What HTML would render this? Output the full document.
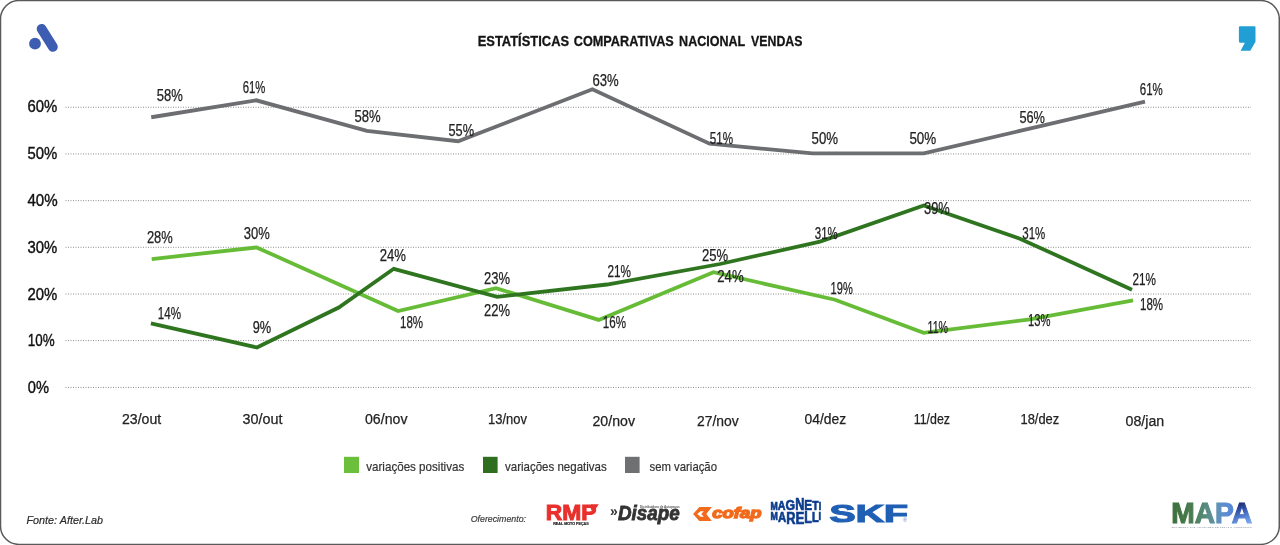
<!DOCTYPE html>
<html lang="pt-BR">
<head>
<meta charset="utf-8">
<title>Estatísticas Comparativas Nacional Vendas</title>
<style>
html,body{margin:0;padding:0;background:#fff;}
body{width:1280px;height:545px;overflow:hidden;}
svg{display:block;will-change:transform;}
text{font-family:"Liberation Sans",sans-serif;}
</style>
</head>
<body>
<svg width="1280" height="545" viewBox="0 0 1280 545">
<defs>
<linearGradient id="mapaG" gradientUnits="userSpaceOnUse" x1="1171" y1="0" x2="1236" y2="0">
<stop offset="0" stop-color="#3d6d3a"/>
<stop offset="0.32" stop-color="#4a7c50"/>
<stop offset="0.55" stop-color="#588c82"/>
<stop offset="0.72" stop-color="#6192b8"/>
<stop offset="0.85" stop-color="#5c8bd6"/>
<stop offset="1" stop-color="#5282d4"/>
</linearGradient>
<linearGradient id="mapaA" gradientUnits="userSpaceOnUse" x1="1236" y1="501" x2="1244" y2="524">
<stop offset="0" stop-color="#131f58"/>
<stop offset="0.35" stop-color="#2c48a0"/>
<stop offset="0.7" stop-color="#5580d2"/>
<stop offset="1" stop-color="#7aa6e6"/>
</linearGradient>
<pattern id="mapaP" patternUnits="userSpaceOnUse" x="0" y="0" width="1280" height="545">
<rect x="1160" y="495" width="75" height="40" fill="url(#mapaG)"/>
<rect x="1233.6" y="495" width="30" height="40" fill="url(#mapaA)"/>
</pattern>
</defs>
<rect x="0" y="0" width="1280" height="545" fill="#ffffff"/>

<rect x="0.5" y="0.5" width="1278.8" height="543.9" rx="18.5" ry="18.5" fill="none" stroke="#5a5a5a" stroke-width="1.5"/>
<line x1="65.5" y1="107.25" x2="1251" y2="107.25" stroke="#8c8c8c" stroke-width="1" stroke-dasharray="1 1.5"/>
<line x1="65.5" y1="153.95" x2="1251" y2="153.95" stroke="#8c8c8c" stroke-width="1" stroke-dasharray="1 1.5"/>
<line x1="65.5" y1="200.65" x2="1251" y2="200.65" stroke="#8c8c8c" stroke-width="1" stroke-dasharray="1 1.5"/>
<line x1="65.5" y1="247.3" x2="1251" y2="247.3" stroke="#8c8c8c" stroke-width="1" stroke-dasharray="1 1.5"/>
<line x1="65.5" y1="294.0" x2="1251" y2="294.0" stroke="#8c8c8c" stroke-width="1" stroke-dasharray="1 1.5"/>
<line x1="65.5" y1="340.6" x2="1251" y2="340.6" stroke="#8c8c8c" stroke-width="1" stroke-dasharray="1 1.5"/>
<line x1="65.5" y1="387.45" x2="1251" y2="387.45" stroke="#8c8c8c" stroke-width="1" stroke-dasharray="1 1.5"/>
<text x="27.40" y="112.10" font-size="17" fill="#111" font-weight="normal" font-style="normal" textLength="29.80" lengthAdjust="spacingAndGlyphs" stroke="#111" stroke-width="0.4">60%</text>
<text x="27.40" y="158.80" font-size="17" fill="#111" font-weight="normal" font-style="normal" textLength="29.80" lengthAdjust="spacingAndGlyphs" stroke="#111" stroke-width="0.4">50%</text>
<text x="27.40" y="205.60" font-size="17" fill="#111" font-weight="normal" font-style="normal" textLength="30.20" lengthAdjust="spacingAndGlyphs" stroke="#111" stroke-width="0.4">40%</text>
<text x="27.40" y="252.50" font-size="17" fill="#111" font-weight="normal" font-style="normal" textLength="29.80" lengthAdjust="spacingAndGlyphs" stroke="#111" stroke-width="0.4">30%</text>
<text x="27.40" y="299.50" font-size="17" fill="#111" font-weight="normal" font-style="normal" textLength="29.80" lengthAdjust="spacingAndGlyphs" stroke="#111" stroke-width="0.4">20%</text>
<text x="27.80" y="346.40" font-size="17" fill="#111" font-weight="normal" font-style="normal" textLength="26.80" lengthAdjust="spacingAndGlyphs" stroke="#111" stroke-width="0.4">10%</text>
<text x="27.80" y="393.20" font-size="17" fill="#111" font-weight="normal" font-style="normal" textLength="21.20" lengthAdjust="spacingAndGlyphs" stroke="#111" stroke-width="0.4">0%</text>
<polyline points="151.25,117.25 256.25,100.3 366.9,130.8 458.1,141.25 592.4,89.3 709.6,143.75 812.5,153.4 923.75,153.3 1035,127.4 1145,101.7" fill="none" stroke="#6d6e71" stroke-width="3.8" stroke-linejoin="miter" stroke-linecap="butt"/>
<polyline points="151.7,259.1 256.6,247.4 398.1,311 496,288.1 598.75,319.9 713.5,272.2 835,299.75 923.6,332.9 1030,319.3 1133.1,300.4" fill="none" stroke="#66bc36" stroke-width="3.8" stroke-linejoin="miter" stroke-linecap="butt"/>
<polyline points="150.9,323.3 256.9,347.5 338.75,307.5 393.75,268.8 497.2,296.8 607,284.5 720,264 820,241.6 923.75,205.5 1020.5,238.9 1132,289.7" fill="none" stroke="#2f7520" stroke-width="3.8" stroke-linejoin="miter" stroke-linecap="butt"/>
<text x="156.85" y="100.85" font-size="15.9" fill="#222" font-weight="normal" font-style="normal" textLength="26.05" lengthAdjust="spacingAndGlyphs" stroke="#222" stroke-width="0.25">58%</text>
<text x="242.75" y="92.95" font-size="15.9" fill="#222" font-weight="normal" font-style="normal" textLength="22.65" lengthAdjust="spacingAndGlyphs" stroke="#222" stroke-width="0.25">61%</text>
<text x="354.40" y="121.95" font-size="15.9" fill="#222" font-weight="normal" font-style="normal" textLength="26.20" lengthAdjust="spacingAndGlyphs" stroke="#222" stroke-width="0.25">58%</text>
<text x="448.50" y="135.95" font-size="15.9" fill="#222" font-weight="normal" font-style="normal" textLength="25.60" lengthAdjust="spacingAndGlyphs" stroke="#222" stroke-width="0.25">55%</text>
<text x="592.50" y="86.45" font-size="15.9" fill="#222" font-weight="normal" font-style="normal" textLength="26.25" lengthAdjust="spacingAndGlyphs" stroke="#222" stroke-width="0.25">63%</text>
<text x="709.75" y="144.05" font-size="15.9" fill="#222" font-weight="normal" font-style="normal" textLength="23.35" lengthAdjust="spacingAndGlyphs" stroke="#222" stroke-width="0.25">51%</text>
<text x="811.60" y="144.05" font-size="15.9" fill="#222" font-weight="normal" font-style="normal" textLength="26.50" lengthAdjust="spacingAndGlyphs" stroke="#222" stroke-width="0.25">50%</text>
<text x="909.40" y="144.05" font-size="15.9" fill="#222" font-weight="normal" font-style="normal" textLength="26.85" lengthAdjust="spacingAndGlyphs" stroke="#222" stroke-width="0.25">50%</text>
<text x="1019.40" y="123.25" font-size="15.9" fill="#222" font-weight="normal" font-style="normal" textLength="25.60" lengthAdjust="spacingAndGlyphs" stroke="#222" stroke-width="0.25">56%</text>
<text x="1139.75" y="94.65" font-size="15.9" fill="#222" font-weight="normal" font-style="normal" textLength="23.00" lengthAdjust="spacingAndGlyphs" stroke="#222" stroke-width="0.25">61%</text>
<text x="146.90" y="243.35" font-size="15.9" fill="#222" font-weight="normal" font-style="normal" textLength="25.85" lengthAdjust="spacingAndGlyphs" stroke="#222" stroke-width="0.25">28%</text>
<text x="243.75" y="239.00" font-size="15.9" fill="#222" font-weight="normal" font-style="normal" textLength="26.00" lengthAdjust="spacingAndGlyphs" stroke="#222" stroke-width="0.25">30%</text>
<text x="379.75" y="261.45" font-size="15.9" fill="#222" font-weight="normal" font-style="normal" textLength="26.25" lengthAdjust="spacingAndGlyphs" stroke="#222" stroke-width="0.25">24%</text>
<text x="157.75" y="318.75" font-size="15.9" fill="#222" font-weight="normal" font-style="normal" textLength="23.25" lengthAdjust="spacingAndGlyphs" stroke="#222" stroke-width="0.25">14%</text>
<text x="252.75" y="333.35" font-size="15.9" fill="#222" font-weight="normal" font-style="normal" textLength="18.50" lengthAdjust="spacingAndGlyphs" stroke="#222" stroke-width="0.25">9%</text>
<text x="400.00" y="327.95" font-size="15.9" fill="#222" font-weight="normal" font-style="normal" textLength="23.10" lengthAdjust="spacingAndGlyphs" stroke="#222" stroke-width="0.25">18%</text>
<text x="484.00" y="284.35" font-size="15.9" fill="#222" font-weight="normal" font-style="normal" textLength="26.00" lengthAdjust="spacingAndGlyphs" stroke="#222" stroke-width="0.25">23%</text>
<text x="484.00" y="315.55" font-size="15.9" fill="#222" font-weight="normal" font-style="normal" textLength="26.00" lengthAdjust="spacingAndGlyphs" stroke="#222" stroke-width="0.25">22%</text>
<text x="607.50" y="276.95" font-size="15.9" fill="#222" font-weight="normal" font-style="normal" textLength="23.50" lengthAdjust="spacingAndGlyphs" stroke="#222" stroke-width="0.25">21%</text>
<text x="602.75" y="327.85" font-size="15.9" fill="#222" font-weight="normal" font-style="normal" textLength="23.25" lengthAdjust="spacingAndGlyphs" stroke="#222" stroke-width="0.25">16%</text>
<text x="701.90" y="260.75" font-size="15.9" fill="#222" font-weight="normal" font-style="normal" textLength="26.20" lengthAdjust="spacingAndGlyphs" stroke="#222" stroke-width="0.25">25%</text>
<text x="717.25" y="281.65" font-size="15.9" fill="#222" font-weight="normal" font-style="normal" textLength="26.50" lengthAdjust="spacingAndGlyphs" stroke="#222" stroke-width="0.25">24%</text>
<text x="814.75" y="238.65" font-size="15.9" fill="#222" font-weight="normal" font-style="normal" textLength="23.00" lengthAdjust="spacingAndGlyphs" stroke="#222" stroke-width="0.25">31%</text>
<text x="830.60" y="294.05" font-size="15.9" fill="#222" font-weight="normal" font-style="normal" textLength="22.15" lengthAdjust="spacingAndGlyphs" stroke="#222" stroke-width="0.25">19%</text>
<text x="924.00" y="213.95" font-size="15.9" fill="#222" font-weight="normal" font-style="normal" textLength="25.75" lengthAdjust="spacingAndGlyphs" stroke="#222" stroke-width="0.25">39%</text>
<text x="927.50" y="332.95" font-size="15.9" fill="#222" font-weight="normal" font-style="normal" textLength="20.60" lengthAdjust="spacingAndGlyphs" stroke="#222" stroke-width="0.25">11%</text>
<text x="1022.25" y="238.95" font-size="15.9" fill="#222" font-weight="normal" font-style="normal" textLength="23.00" lengthAdjust="spacingAndGlyphs" stroke="#222" stroke-width="0.25">31%</text>
<text x="1132.50" y="284.75" font-size="15.9" fill="#222" font-weight="normal" font-style="normal" textLength="23.50" lengthAdjust="spacingAndGlyphs" stroke="#222" stroke-width="0.25">21%</text>
<text x="1140.00" y="309.75" font-size="15.9" fill="#222" font-weight="normal" font-style="normal" textLength="23.10" lengthAdjust="spacingAndGlyphs" stroke="#222" stroke-width="0.25">18%</text>
<text x="1028.10" y="325.85" font-size="15.9" fill="#222" font-weight="normal" font-style="normal" textLength="22.50" lengthAdjust="spacingAndGlyphs" stroke="#222" stroke-width="0.25">13%</text>
<text x="122.00" y="424.40" font-size="15.5" fill="#222" font-weight="normal" font-style="normal" textLength="39.25" lengthAdjust="spacingAndGlyphs" stroke="#222" stroke-width="0.25">23/out</text>
<text x="242.50" y="424.40" font-size="15.5" fill="#222" font-weight="normal" font-style="normal" textLength="40.00" lengthAdjust="spacingAndGlyphs" stroke="#222" stroke-width="0.25">30/out</text>
<text x="365.00" y="424.40" font-size="15.5" fill="#222" font-weight="normal" font-style="normal" textLength="42.50" lengthAdjust="spacingAndGlyphs" stroke="#222" stroke-width="0.25">06/nov</text>
<text x="488.00" y="424.40" font-size="15.5" fill="#222" font-weight="normal" font-style="normal" textLength="39.00" lengthAdjust="spacingAndGlyphs" stroke="#222" stroke-width="0.25">13/nov</text>
<text x="592.50" y="425.90" font-size="15.5" fill="#222" font-weight="normal" font-style="normal" textLength="42.50" lengthAdjust="spacingAndGlyphs" stroke="#222" stroke-width="0.25">20/nov</text>
<text x="697.00" y="425.90" font-size="15.5" fill="#222" font-weight="normal" font-style="normal" textLength="41.75" lengthAdjust="spacingAndGlyphs" stroke="#222" stroke-width="0.25">27/nov</text>
<text x="804.50" y="424.40" font-size="15.5" fill="#222" font-weight="normal" font-style="normal" textLength="41.75" lengthAdjust="spacingAndGlyphs" stroke="#222" stroke-width="0.25">04/dez</text>
<text x="913.75" y="424.40" font-size="15.5" fill="#222" font-weight="normal" font-style="normal" textLength="36.25" lengthAdjust="spacingAndGlyphs" stroke="#222" stroke-width="0.25">11/dez</text>
<text x="1020.50" y="424.40" font-size="15.5" fill="#222" font-weight="normal" font-style="normal" textLength="38.75" lengthAdjust="spacingAndGlyphs" stroke="#222" stroke-width="0.25">18/dez</text>
<text x="1125.50" y="425.90" font-size="15.5" fill="#222" font-weight="normal" font-style="normal" textLength="38.75" lengthAdjust="spacingAndGlyphs" stroke="#222" stroke-width="0.25">08/jan</text>
<text x="477.70" y="46.00" font-size="14.6" fill="#141414" font-weight="bold" font-style="normal" textLength="91.40" lengthAdjust="spacingAndGlyphs" stroke="#141414" stroke-width="0.3">ESTATÍSTICAS</text>
<text x="573.80" y="46.00" font-size="14.6" fill="#141414" font-weight="bold" font-style="normal" textLength="99.95" lengthAdjust="spacingAndGlyphs" stroke="#141414" stroke-width="0.3">COMPARATIVAS</text>
<text x="679.10" y="46.00" font-size="14.6" fill="#141414" font-weight="bold" font-style="normal" textLength="66.10" lengthAdjust="spacingAndGlyphs" stroke="#141414" stroke-width="0.3">NACIONAL</text>
<text x="751.10" y="46.00" font-size="14.6" fill="#141414" font-weight="bold" font-style="normal" textLength="51.30" lengthAdjust="spacingAndGlyphs" stroke="#141414" stroke-width="0.3">VENDAS</text>
<rect x="344" y="456.8" width="15" height="16.2" fill="#6bbf3b"/>
<rect x="483" y="456.8" width="14.6" height="16.2" fill="#2f6e1e"/>
<rect x="625" y="456.8" width="14.6" height="16.2" fill="#6f7072"/>
<text x="366.25" y="470.60" font-size="12.6" fill="#333" font-weight="normal" font-style="normal" textLength="98.00" lengthAdjust="spacingAndGlyphs" stroke="#333" stroke-width="0.2">variações positivas</text>
<text x="505.00" y="470.60" font-size="12.6" fill="#333" font-weight="normal" font-style="normal" textLength="101.75" lengthAdjust="spacingAndGlyphs" stroke="#333" stroke-width="0.2">variações negativas</text>
<text x="649.50" y="470.60" font-size="12.6" fill="#333" font-weight="normal" font-style="normal" textLength="67.50" lengthAdjust="spacingAndGlyphs" stroke="#333" stroke-width="0.2">sem variação</text>
<text x="26.50" y="523.80" font-size="11.6" fill="#2b2b2b" font-weight="normal" font-style="italic" textLength="76.60" lengthAdjust="spacingAndGlyphs" stroke="#2b2b2b" stroke-width="0.2">Fonte: After.Lab</text>
<text x="470.70" y="521.80" font-size="9.4" fill="#3a3a3a" font-weight="normal" font-style="italic" textLength="55.30" lengthAdjust="spacingAndGlyphs" stroke="#3a3a3a" stroke-width="0.2">Oferecimento:</text>
<circle cx="35" cy="43.7" r="5.9" fill="#3d5db3"/>
<line x1="41.6" y1="28.9" x2="52.9" y2="46.9" stroke="#3d5db3" stroke-width="9.8" stroke-linecap="round"/>
<path d="M1239.9 26.2 H1254.5 Q1255.5 26.2 1255.5 27.2 V41.8 L1250.3 50.7 H1240.6 L1244.8 42.7 H1240.4 Q1238.9 42.7 1238.9 41.2 V27.2 Q1238.9 26.2 1239.9 26.2 Z" fill="#219fd5"/>
<text x="545.80" y="519.90" font-size="21.8" fill="#e8302c" font-weight="bold" font-style="normal" textLength="50.70" lengthAdjust="spacingAndGlyphs" stroke="#e8302c" stroke-width="1">RMP</text>
<polygon points="591,504.2 598.8,504.2 595,509.8 591,509.8" fill="#e8302c"/>
<g transform="translate(553.20,524.75) scale(0.1450)"><text x="0" y="0" font-size="20" fill="#2a2a2a" font-weight="bold" font-style="normal" textLength="244.83" lengthAdjust="spacingAndGlyphs" stroke="#2a2a2a" stroke-width="1.2">REAL MOTO PEÇAS</text></g>
<text x="609.90" y="515.60" font-size="14.5" fill="#333" font-weight="bold" font-style="normal" textLength="7.70" lengthAdjust="spacingAndGlyphs">»</text>
<text x="618.00" y="520.30" font-size="20" fill="#333" font-weight="bold" font-style="italic" textLength="61.70" lengthAdjust="spacingAndGlyphs" stroke="#333" stroke-width="0.8">Disape</text>
<g transform="translate(640.00,508.00) scale(0.1350)"><text x="0" y="0" font-size="20" fill="#555" font-weight="bold" font-style="normal" textLength="294.07" lengthAdjust="spacingAndGlyphs">Distribuidora de Autopeças</text></g>
<polygon points="693.1,514 699.3,507.1 711.8,507.1 706.3,514 711.8,521.1 699.3,521.1" fill="#f26a1b"/>
<polygon points="697.2,514 700.5,511.3 703.8,511.3 701.3,514 703.8,516.8 700.5,516.8" fill="#fff"/>
<text x="712.30" y="517.80" font-size="14.3" fill="#f26a1b" font-weight="bold" font-style="italic" textLength="49.10" lengthAdjust="spacingAndGlyphs" stroke="#f26a1b" stroke-width="1.3">cofap</text>
<g role="img" aria-label="MAGNETI MARELLI"><title>MAGNETI MARELLI</title>
<text transform="translate(770.6,0) scale(0.8000,1)" x="0" y="510.1" fill="#0c3c8c" stroke="#0c3c8c" stroke-width="0.7" font-weight="bold"><tspan font-size="10.89" y="510.10">M</tspan><tspan font-size="13.41" y="510.10">A</tspan><tspan font-size="15.36" y="510.10">G</tspan><tspan font-size="15.92" y="510.10">N</tspan><tspan font-size="14.80" y="510.10">E</tspan><tspan font-size="13.13" y="510.10">T</tspan><tspan font-size="11.17" y="510.10">I</tspan></text>
<text transform="translate(770.6,0) scale(0.7680,1)" x="0" y="511.6" fill="#0c3c8c" stroke="#0c3c8c" stroke-width="0.7" font-weight="bold"><tspan font-size="11.45" y="519.80">M</tspan><tspan font-size="14.80" y="522.20">A</tspan><tspan font-size="16.76" y="523.60">R</tspan><tspan font-size="17.32" y="524.00">E</tspan><tspan font-size="16.20" y="523.20">L</tspan><tspan font-size="14.25" y="521.80">L</tspan><tspan font-size="11.73" y="520.00">I</tspan></text>
</g>
<text x="829.60" y="521.70" font-size="24.6" fill="#1f5fb4" font-weight="bold" font-style="normal" textLength="78.20" lengthAdjust="spacingAndGlyphs" stroke="#1f5fb4" stroke-width="1.2">SKF</text>
<g transform="translate(902.80,521.90) scale(0.2800)"><text x="0" y="0" font-size="20" fill="#6d8fc7" font-weight="normal" font-style="normal" textLength="15.71" lengthAdjust="spacingAndGlyphs">®</text></g>
<text x="1171.2" y="522.9" font-size="29.2" font-weight="bold" fill="url(#mapaP)" stroke="url(#mapaP)" stroke-width="1.1" textLength="80.8" lengthAdjust="spacingAndGlyphs">MAPA</text>
<g transform="translate(1171.80,528.00) scale(0.1050)"><text x="0" y="0" font-size="20" fill="#80868c" font-weight="bold" font-style="normal" textLength="760.00" lengthAdjust="spacing">MOVIMENTO DAS ATIVIDADES EM PEÇAS E ACESSÓRIOS</text></g>
</svg>
</body>
</html>
